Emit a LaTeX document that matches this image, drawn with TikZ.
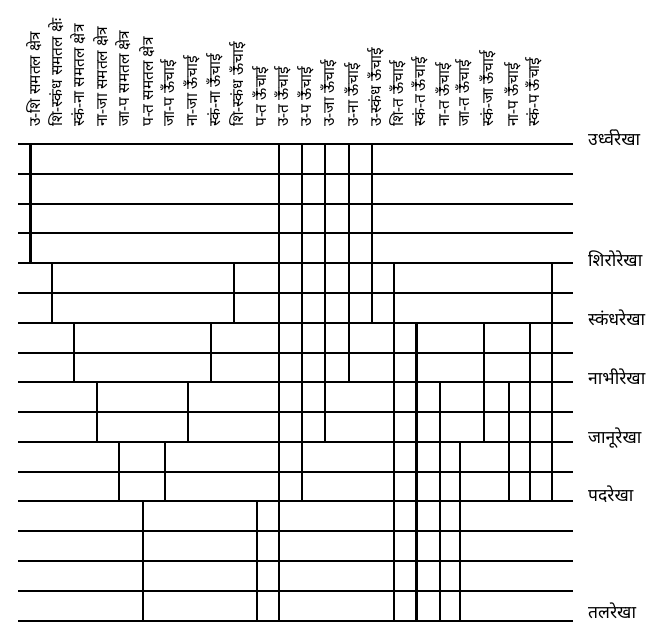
\documentclass[tikz,border=0pt]{standalone}
\usepackage{fontspec}
\newfontfamily\deva[Script=Devanagari]{Noto Sans}
\begin{document}
\begin{tikzpicture}[x=1pt,y=-1pt,
  hline/.style={line width=2.4pt},
  vline/.style={line width=2.4pt},
  vthick/.style={line width=3pt},
  head/.style={rotate=90,anchor=west,inner sep=0pt,font=\deva\fontsize{15.5}{16}\selectfont},
  rlabel/.style={anchor=base west,inner sep=0pt,font=\deva\fontsize{17.5}{18}\selectfont}]
\useasboundingbox (0,0) rectangle (649,631);
% horizontal lines
\foreach \i in {1,...,17}{
  \pgfmathsetmacro{\yy}{round(144+29.79*(\i-1))}
  \coordinate (L\i) at (18,\yy);
  \coordinate (R\i) at (573,\yy);
  \draw[hline] (L\i) -- (R\i);
}
% column positions
\foreach \i/\x in {1/30,2/52,3/74,4/97,5/119,6/143,7/165,8/188,9/211,10/234,11/257,12/279,13/302,14/325,15/349,16/372,17/394,18/416,19/440,20/460,21/484,22/509,23/530,24/552}
  \coordinate (c\i) at (\x,0);
% vertical lines
\foreach \i/\a/\b in {2/5/7,3/7/9,4/9/11,5/11/13,6/13/17,7/11/13,8/9/11,9/7/9,10/5/7,11/13/17,12/1/17,13/1/13,14/1/11,15/1/9,16/1/7,17/5/17,19/9/17,20/11/17,21/7/11,22/9/13,23/7/13,24/5/13}
  \draw[vline] (c\i |- L\a) -- (c\i |- L\b);
\draw[vthick] (c1 |- L1) -- (c1 |- L5);
\draw[vthick] (c18 |- L7) -- (c18 |- L17);
% headers
\foreach \i/\t in {1/{उ-शि समतल क्षेत्र},2/{शि-स्कंध समतल क्षेः},3/{स्कं-ना समतल क्षेत्र},4/{ना-जा समतल क्षेत्र},5/{जा-प समतल क्षेत्र},6/{प-त समतल क्षेत्र},7/{जा-प ऊँचाई},8/{ना-जा ऊँचाई},9/{स्कं-ना ऊँचाई},10/{शि-स्कंध ऊँचाई},11/{प-त ऊँचाई},12/{उ-त ऊँचाई},13/{उ-प ऊँचाई},14/{उ-जा ऊँचाई},15/{उ-ना ऊँचाई},16/{उ-स्कंध ऊँचाई},17/{शि-त ऊँचाई},18/{स्कं-त ऊँचाई},19/{ना-त ऊँचाई},20/{जा-त ऊँचाई},21/{स्कं-जा ऊँचाई},22/{ना-प ऊँचाई},23/{स्कं-प ऊँचाई}}
  \node[head] (h\i) at ([xshift=4pt]c\i |- 0,127) {\t};
% right labels
\node[rlabel] (n1) at ([xshift=15pt,yshift=-2pt]R1) {उर्ध्वरेखा};
\node[rlabel] (n5) at ([xshift=15pt,yshift=-4pt]R5) {शिरोरेखा};
\node[rlabel] (n7) at ([xshift=15pt,yshift=-3pt]R7) {स्कंधरेखा};
\node[rlabel] (n9) at ([xshift=15pt,yshift=-3pt]R9) {नाभीरेखा};
\node[rlabel] (n11) at ([xshift=15pt,yshift=-2pt]R11) {जानूरेखा};
\node[rlabel] (n13) at ([xshift=15pt,yshift=-1pt]R13) {पदरेखा};
\node[rlabel] (n17) at ([xshift=15pt,yshift=3pt]R17) {तलरेखा};
\end{tikzpicture}
\end{document}
